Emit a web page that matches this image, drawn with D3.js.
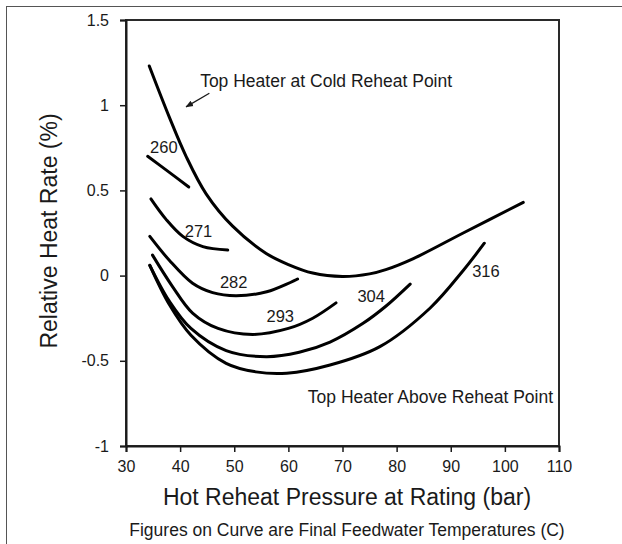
<!DOCTYPE html>
<html>
<head>
<meta charset="utf-8">
<script src="https://cdn.jsdelivr.net/npm/d3@7"></script>
<style>
  html, body { margin: 0; padding: 0; background: #fff; }
  svg { display: block; font-family: "Liberation Sans", Arial, Helvetica, sans-serif; }
</style>
</head>
<body>
<svg id="chart" width="622" height="544"></svg>
<script>
// ---- data ----
const xTicks = [30, 40, 50, 60, 70, 80, 90, 100, 110];
const yTicks = [-1, -0.5, 0, 0.5, 1, 1.5];
const yTickLabels = ["-1", "-0.5", "0", "0.5", "1", "1.5"];

const coldReheat = [[34.3,1.23],[38,0.93],[41.1,0.70],[44.8,0.48],[49.7,0.29],[55.9,0.13],[60,0.065],[64.5,0.015],[70,-0.005],[75,0.01],[78,0.035],[83.1,0.10],[92.3,0.25],[103.4,0.43]];
const t260 = [[34,0.70],[37.7,0.613],[41.6,0.52]];
const t271 = [[34.6,0.45],[37.4,0.33],[40.5,0.23],[44.2,0.17],[48.8,0.15]];
const t282 = [[34.4,0.23],[38,0.09],[42.3,-0.045],[46,-0.10],[50.3,-0.118],[56,-0.095],[61.7,-0.02]];
const t293 = [[34.9,0.12],[38.5,-0.06],[42.3,-0.22],[47,-0.31],[53.4,-0.345],[60,-0.31],[64.5,-0.25],[68.8,-0.16]];
const t304 = [[34.4,0.06],[38,-0.15],[42,-0.31],[48.5,-0.44],[55.9,-0.476],[62,-0.45],[67.7,-0.39],[73.8,-0.28],[78,-0.18],[82.5,-0.05]];
const t316 = [[34.4,0.06],[38,-0.17],[42,-0.35],[48.5,-0.515],[54,-0.565],[59.7,-0.573],[67.7,-0.525],[76.9,-0.417],[86.2,-0.19],[92.3,0.03],[96.2,0.19]];

const curveLabels = ["260", "271", "282", "293", "304", "316"];
const curveLabelX = [37.0, 43.4, 49.9, 58.5, 75.3, 96.5];
const curveLabelY = [0.72, 0.228, -0.073, -0.272, -0.152, -0.011];

const noteCold = "Top Heater at Cold Reheat Point";
const noteColdPos = [43.7, 1.107];
const arrowFrom = [45.4, 1.07];
const arrowTo = [41.1, 0.99];
const noteAbove = "Top Heater Above Reheat Point";
const noteAbovePos = [108.9, -0.748];

const xTitle = "Hot Reheat Pressure at Rating (bar)";
const yTitle = "Relative Heat Rate (%)";
const footer = "Figures on Curve are Final Feedwater Temperatures (C)";

// ---- layout ----
const svg = d3.select("#chart");
const mLeft = 126, mRight = 559, mTop = 20, mBottom = 446;
const x = d3.scaleLinear().domain([30, 110]).range([mLeft, mRight]);
const y = d3.scaleLinear().domain([-1, 1.5]).range([mBottom, mTop]);
const ink = "#1a1a1a";

// outer frame
svg.append("rect").attr("x", 6.5).attr("y", 6.5).attr("width", 700).attr("height", 700)
  .attr("fill", "none").attr("stroke", "#555").attr("stroke-width", 1);

// plot frame
svg.append("rect").attr("x", mLeft).attr("y", mTop).attr("width", mRight - mLeft).attr("height", mBottom - mTop)
  .attr("fill", "none").attr("stroke", "#2a2a2a").attr("stroke-width", 2);

// axes
const xAxis = d3.axisBottom(x).tickValues(xTicks).tickSize(6).tickPadding(6).tickFormat(d3.format("d"));
const gx = svg.append("g").attr("transform", `translate(0,${mBottom})`).call(xAxis);
const yAxis = d3.axisLeft(y).tickValues(yTicks).tickSize(6).tickPadding(11).tickFormat((d, i) => yTickLabels[i]);
const gy = svg.append("g").attr("transform", `translate(${mLeft},0)`).call(yAxis);
[gx, gy].forEach(g => {
  g.select(".domain").attr("stroke", ink).attr("stroke-width", 2);
  g.selectAll(".tick line").attr("stroke", ink).attr("stroke-width", 1.5);
  g.selectAll(".tick text").attr("fill", ink).style("font-size", "16px")
    .style("font-family", "'Liberation Sans', Arial, sans-serif");
});
gx.selectAll(".tick text").attr("dy", "0.9em");

// curves
const line = d3.line().x(d => x(d[0])).y(d => y(d[1])).curve(d3.curveCatmullRom.alpha(0.5));
const allCurves = [coldReheat, t260, t271, t282, t293, t304, t316];
svg.append("g").selectAll("path").data(allCurves).join("path")
  .attr("d", line).attr("fill", "none").attr("stroke", "#000")
  .attr("stroke-width", 3).attr("stroke-linecap", "round");

// curve labels
svg.append("g").selectAll("text").data(curveLabels).join("text")
  .attr("x", (d, i) => x(curveLabelX[i])).attr("y", (d, i) => y(curveLabelY[i]))
  .attr("text-anchor", "middle").attr("fill", ink).style("font-size", "16.5px").text(d => d);

// annotations
svg.append("text").attr("x", x(noteColdPos[0])).attr("y", y(noteColdPos[1]))
  .attr("fill", ink).style("font-size", "17.5px").text(noteCold);
svg.append("text").attr("x", x(noteAbovePos[0])).attr("y", y(noteAbovePos[1]))
  .attr("text-anchor", "end").attr("fill", ink).style("font-size", "17.5px").text(noteAbove);

const defs = svg.append("defs");
defs.append("marker").attr("id", "arr").attr("viewBox", "0 0 10 10").attr("refX", 9).attr("refY", 5)
  .attr("markerWidth", 6).attr("markerHeight", 6).attr("orient", "auto")
  .append("path").attr("d", "M0,1 L10,5 L0,9 Z").attr("fill", ink);
svg.append("line").attr("x1", x(arrowFrom[0])).attr("y1", y(arrowFrom[1]))
  .attr("x2", x(arrowTo[0])).attr("y2", y(arrowTo[1]))
  .attr("stroke", ink).attr("stroke-width", 1.3).attr("marker-end", "url(#arr)");

// titles
svg.append("text").attr("x", 347).attr("y", 505).attr("text-anchor", "middle")
  .attr("fill", ink).style("font-size", "23px").text(xTitle);
svg.append("text").attr("transform", "translate(57,231) rotate(-90)").attr("text-anchor", "middle")
  .attr("fill", ink).style("font-size", "23px").text(yTitle);
svg.append("text").attr("x", 347).attr("y", 536).attr("text-anchor", "middle")
  .attr("fill", ink).style("font-size", "17.5px").text(footer);
</script>
</body>
</html>
